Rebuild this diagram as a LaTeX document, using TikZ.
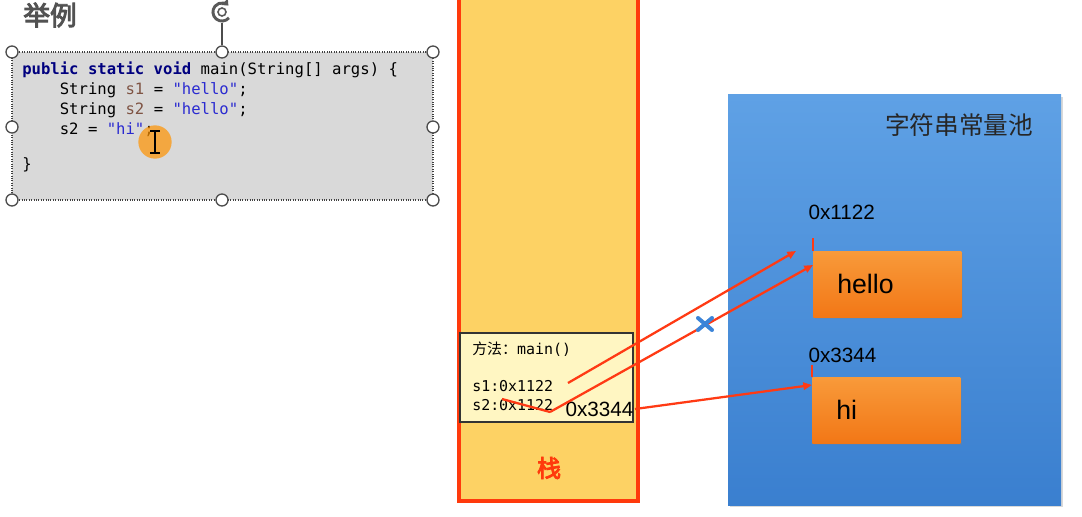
\documentclass[tikz,border=0pt]{standalone}
\usepackage{fontspec}
\usepackage{xcolor}
\usepackage{tikz}
\usetikzlibrary{arrows.meta,shadows,calc}
\setmainfont{Liberation Sans}
\newfontfamily\cjk{Noto Sans CJK SC}[AutoFakeBold=3.5]
\newfontfamily\codefont{DejaVu Sans Mono}
\newcommand{\dq}{\symbol{34}}

\definecolor{codegray}{HTML}{D9D9D9}
\definecolor{kwblue}{HTML}{00007F}
\definecolor{varbrown}{HTML}{7F5444}
\definecolor{strblue}{HTML}{2A2AD0}
\definecolor{stackfill}{HTML}{FDD264}
\definecolor{stackred}{HTML}{FF3A0C}
\definecolor{framefill}{HTML}{FFF6C2}
\definecolor{pooltop}{HTML}{5FA1E5}
\definecolor{poolbottom}{HTML}{3A7FCF}
\definecolor{strtop}{HTML}{F89A3A}
\definecolor{strbottom}{HTML}{F27716}
\definecolor{arrowred}{HTML}{FF3A14}
\definecolor{crossblue}{HTML}{3C84D8}

\begin{document}
\begin{tikzpicture}[x=0.75pt,y=-0.75pt,
		handle/.style={circle, draw=gray!60!black, fill=white, line width=1pt, inner sep=0pt, minimum size=9pt},
		refarrow/.style={draw=arrowred, line width=1.7pt, -{Triangle[length=6.5pt,width=5.5pt]}},
		strike/.style={draw=arrowred, line width=1.7pt},
		tick/.style={draw=arrowred, line width=1pt},
		strbox/.style={top color=strtop, bottom color=strbottom, minimum width=111pt, minimum height=49.5pt, anchor=north west, inner xsep=18pt, text width=75pt, align=left, font=\fontsize{20}{20}\selectfont, drop shadow={opacity=0.25, shadow xshift=1pt, shadow yshift=-1pt}},
		addr/.style={font=\fontsize{15.5}{15.5}\selectfont, inner sep=1pt, anchor=west},
		frametext/.style={anchor=west, inner sep=0pt, font=\codefont\fontsize{11.2}{11.2}\selectfont}
	]
		\useasboundingbox (0,0) rectangle (1082,517);

		\node[text=black!68, font=\cjk\bfseries\fontsize{20}{20}\selectfont] (title) at (50,15) {举例};

		\node[draw=gray!50!black, densely dotted, line width=0.8pt, fill=codegray, minimum width=315.75pt, minimum height=111pt] (codebox) at (222.5,126) {};
		\node[anchor=north west, inner sep=0pt, align=left, font=\codefont\fontsize{11.7}{15}\selectfont] (code) at (22,62) {
			{\bfseries\color{kwblue}public static void} main(String[] args) \{\\
			\hphantom{xxxx}String {\color{varbrown}s1} = {\color{strblue}\dq hello\dq};\\
			\hphantom{xxxx}String {\color{varbrown}s2} = {\color{strblue}\dq hello\dq};\\
			\hphantom{xxxx}s2 = {\color{strblue}\dq hi\dq};\\[11.25pt]
			\}
		};
		\node[circle, fill=orange!85!yellow, opacity=0.7, minimum size=25pt, inner sep=0pt] (cursor) at (155,142) {};
		\draw[black, line width=1.2pt] (150,131) -- (160,131) (155,131) -- (155,153) (150,153) -- (160,153);

		\foreach \hx/\hy [count=\i] in {12/52, 222/52, 433/52, 12/127, 433/127, 12/200, 222/200, 433/200}
			\node[handle] (h\i) at (\hx,\hy) {};
		\node[inner sep=0pt, minimum size=16pt] (rot) at (222,12) {};
		\coordinate (rotbase) at (222,23);
		\draw[gray!60!black, line width=1pt] (h2) -- (rotbase);
		\draw[gray!70!black, line width=2.2pt, -{Triangle[length=4pt,width=6.5pt]}] ($(rot)+(-40:6.8pt)$) arc[start angle=-40, end angle=-315, radius=6.8pt];
		\draw[gray!70!black, line width=1.2pt] (rot) circle[radius=3pt];

		\node[draw=stackred, line width=3pt, fill=stackfill, minimum width=133.9pt, minimum height=382.9pt] (stack) at (548.25,245.25) {};
		\node[text=stackred, font=\cjk\bfseries\fontsize{18}{18}\selectfont] (stacklabel) at (549,468) {栈};

		\node[draw=black!80, line width=0.8pt, fill=framefill, minimum width=129.75pt, minimum height=66.75pt] (frame) at (546.5,377.5) {};
		\node[frametext] (method) at (472,349) {{\cjk\fontsize{11.2}{11.2}\selectfont 方法：}main()};
		\node[frametext] (s1) at (472,386) {s1:0x1122};
		\node[frametext] (s2) at (472,405) {s2:0x1122};
		\node[addr] (frameaddr) at (564,409) {0x3344};

		\node[top color=pooltop, bottom color=poolbottom, minimum width=249.75pt, minimum height=307.5pt, drop shadow={opacity=0.3, shadow xshift=1.5pt, shadow yshift=-1.5pt}] (pool) at (894.5,300) {};
		\node[text=black!85, font=\cjk\fontsize{18.5}{18.5}\selectfont] (pooltitle) at (959,125) {字符串常量池};

		\node[addr] (addrhello) at (807,212) {0x1122};
		\node[strbox] (hello) at (813,251) {hello};
		\draw[tick] (813,238) -- (hello.north west);
		\node[addr] (addrhi) at (807,355) {0x3344};
		\node[strbox] (hi) at (812,377) {hi};
		\draw[tick] (812,365) -- (hi.north west);

		\coordinate (s1ref) at (568,383);
		\coordinate (t1) at (796,251);
		\coordinate (strikea) at (502,399);
		\coordinate (strikeb) at (550,412);
		\coordinate (t2) at (813,265);
		\coordinate (t3) at (812,385);
		\draw[refarrow] (s1ref) -- (t1);
		\draw[strike] (strikea) -- (strikeb);
		\draw[refarrow] (strikeb) -- (t2);
		\draw[refarrow] (frameaddr.east) -- (t3);

		\node[inner sep=0pt] (cross) at (705,324) {};
		\draw[crossblue, line width=3pt, line cap=round] ($(cross)+(-7,-6)$) -- ($(cross)+(7,6)$) ($(cross)+(-7,6)$) -- ($(cross)+(7,-6)$);
	\end{tikzpicture}
\end{document}
